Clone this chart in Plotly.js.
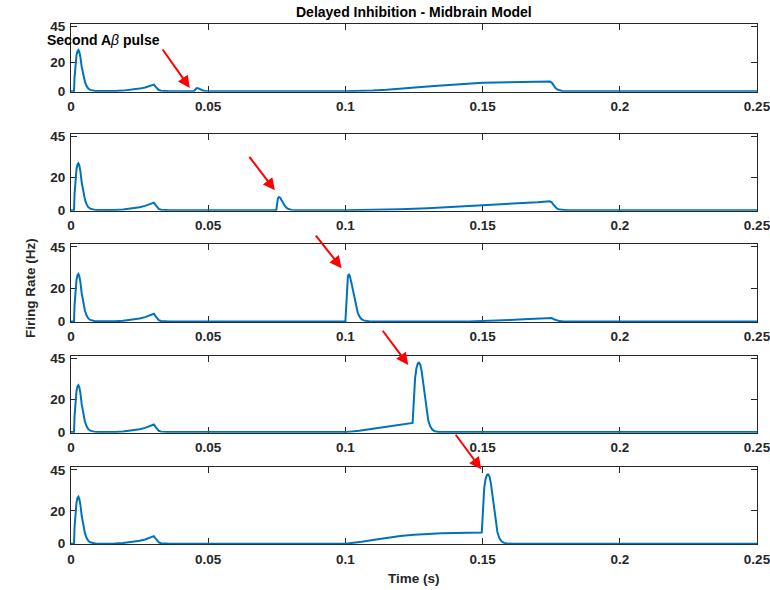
<!DOCTYPE html>
<html>
<head>
<meta charset="utf-8">
<script src="https://cdn.plot.ly/plotly-3.0.1.min.js"></script>
<style>html,body{margin:0;padding:0;background:#fff;}#chart{width:770px;height:590px;}</style>
</head>
<body>
<div id="chart"></div>
<script>
// ---- Data ----
// common first part: initial pulse + small bump near 0.03 s
const tCommon = [0, 0.0011, 0.0013, 0.0016, 0.0020, 0.0024, 0.0027, 0.0030, 0.0034, 0.0039, 0.0045, 0.0051, 0.0057, 0.0063, 0.0070, 0.0078, 0.0088, 0.0100, 0.0120, 0.0160, 0.0190, 0.0220, 0.0250, 0.0270, 0.0290, 0.0302, 0.0308, 0.0314, 0.0320, 0.0328, 0.0340, 0.0360];
const frCommon = [0, 0, 10, 19, 25, 28, 28.6, 27.5, 24, 17, 10.5, 6.3, 3.5, 1.8, 0.9, 0.4, 0.15, 0.05, 0, 0.1, 0.4, 1.0, 1.8, 2.6, 3.6, 4.6, 3.2, 1.7, 0.8, 0.3, 0.05, 0];

// panel 1
const t1 = [0.0448, 0.0452, 0.0458, 0.0465, 0.0472, 0.0480, 0.0490, 0.0510, 0.1000, 0.1050, 0.1100, 0.1150, 0.1200, 0.1250, 0.1300, 0.1350, 0.1400, 0.1450, 0.1500, 0.1550, 0.1600, 0.1650, 0.1700, 0.1745, 0.1752, 0.1758, 0.1765, 0.1772, 0.1780, 0.1790, 0.1810, 0.2500];
const fr1 = [0, 1.2, 2.2, 1.9, 1.1, 0.5, 0.15, 0, 0, 0.15, 0.5, 1.0, 1.6, 2.4, 3.2, 4.0, 4.7, 5.3, 5.8, 6.1, 6.4, 6.6, 6.7, 6.8, 6.0, 4.2, 2.4, 1.2, 0.5, 0.15, 0, 0];
// panel 2
const t2 = [0.0748, 0.0751, 0.0754, 0.0758, 0.0763, 0.0768, 0.0774, 0.0780, 0.0787, 0.0795, 0.0805, 0.0820, 0.1000, 0.1100, 0.1200, 0.1300, 0.1400, 0.1500, 0.1600, 0.1700, 0.1745, 0.1752, 0.1758, 0.1765, 0.1772, 0.1780, 0.1790, 0.1810, 0.2500];
const fr2 = [0, 4.5, 7.2, 8.0, 7.4, 5.8, 3.9, 2.4, 1.2, 0.5, 0.15, 0, 0, 0.2, 0.6, 1.2, 2.0, 2.9, 3.8, 4.8, 5.4, 4.8, 3.4, 1.9, 0.9, 0.35, 0.1, 0, 0];
// panel 3
const t3 = [0.1000, 0.1003, 0.1006, 0.1009, 0.1012, 0.1016, 0.1021, 0.1027, 0.1033, 0.1039, 0.1045, 0.1051, 0.1058, 0.1066, 0.1076, 0.1090, 0.1450, 0.1500, 0.1550, 0.1600, 0.1650, 0.1700, 0.1745, 0.1752, 0.1760, 0.1770, 0.1780, 0.1795, 0.2500];
const fr3 = [0, 12, 22, 27, 28.5, 27.5, 24, 19, 13, 8.5, 5.2, 3, 1.5, 0.6, 0.2, 0, 0, 0.2, 0.5, 0.9, 1.3, 1.8, 2.3, 2.0, 1.3, 0.6, 0.2, 0, 0];
// panel 4
const t4 = [0.1000, 0.1020, 0.1050, 0.1100, 0.1150, 0.1200, 0.1245, 0.1247, 0.1250, 0.1254, 0.1259, 0.1264, 0.1268, 0.1273, 0.1278, 0.1284, 0.1290, 0.1296, 0.1302, 0.1309, 0.1317, 0.1326, 0.1340, 0.1360, 0.2500];
const fr4 = [0, 0.3, 0.9, 2.0, 3.1, 4.3, 5.6, 12, 24, 33, 39, 41.8, 42.3, 41, 37, 29, 20, 12.5, 7, 3.5, 1.5, 0.5, 0.1, 0, 0];
// panel 5
const t5 = [0.1000, 0.1030, 0.1060, 0.1100, 0.1150, 0.1200, 0.1250, 0.1300, 0.1350, 0.1400, 0.1450, 0.1497, 0.1499, 0.1502, 0.1506, 0.1511, 0.1516, 0.1520, 0.1525, 0.1530, 0.1536, 0.1542, 0.1548, 0.1554, 0.1561, 0.1569, 0.1578, 0.1590, 0.1610, 0.2500];
const fr5 = [0, 0.4, 1.2, 2.3, 3.6, 4.7, 5.5, 6.0, 6.3, 6.5, 6.7, 6.8, 13, 25, 34, 39.5, 41.8, 42.2, 41, 37, 29, 20, 12.5, 7, 3.5, 1.5, 0.5, 0.1, 0, 0];

// red arrows (tip / tail in data units of each panel)
const arrowTipT  = [0.0433, 0.0743, 0.0986, 0.1229, 0.1495];
const arrowTipY  = [2.3, 12.1, 32.1, 40.9, 45.3];
const arrowTailT = [0.0330, 0.0646, 0.0888, 0.1132, 0.1398];
const arrowTailY = [30.0, 33.4, 52.7, 62.6, 67.2];

const xTickVals = [0, 0.05, 0.1, 0.15, 0.2, 0.25];
const xTickText = ['0', '0.05', '0.1', '0.15', '0.2', '0.25'];
const yTickVals = [0, 20, 45];
const yTickText = ['0', '20', '45'];

const titleText = 'Delayed Inhibition - Midbrain Model';
const xTitleText = 'Time (s)';
const yTitleText = 'Firing Rate (Hz)';
const noteText = '<b>Second A</b><i>β</i><b> pulse</b>';

// ---- Build figure ----
const panelT = [t1, t2, t3, t4, t5];
const panelF = [fr1, fr2, fr3, fr4, fr5];
const W = 770, H = 590;
const FONT = 'Liberation Sans, Arial, Helvetica, sans-serif';
const AXC = '#262626';
const boxTop = [24.3, 134, 244.3, 355.7, 467.3];
const boxBot = [91.7, 210.7, 322, 432.7, 544.3];

const traces = [];
const layout = {
  width: W, height: H,
  margin: {l: 0, r: 0, t: 0, b: 0},
  paper_bgcolor: '#fff', plot_bgcolor: '#fff',
  showlegend: false,
  font: {family: FONT, color: AXC},
  annotations: []
};

for (let k = 0; k < 5; k++) {
  const sx = k === 0 ? '' : String(k + 1);
  traces.push({
    type: 'scatter', mode: 'lines',
    x: tCommon.concat(panelT[k]),
    y: frCommon.concat(panelF[k]),
    xaxis: 'x' + sx, yaxis: 'y' + sx,
    line: {color: '#0072BD', width: 2},
    hoverinfo: 'skip'
  });
  const common = {
    showline: true, linecolor: AXC, linewidth: 1, mirror: 'ticks',
    ticks: 'inside', ticklen: 6, tickwidth: 1, tickcolor: AXC,
    showgrid: false, zeroline: false, automargin: false, layer: 'below traces',
    tickfont: {family: FONT, size: 13.5, color: AXC, weight: 'bold'},
    ticklabeloverflow: 'allow',
    fixedrange: true
  };
  layout['xaxis' + sx] = Object.assign({}, common, {
    domain: [71 / W, 757 / W], range: [0, 0.25],
    tickmode: 'array', tickvals: xTickVals, ticktext: xTickText,
    anchor: 'y' + sx, ticklabelstandoff: 2
  });
  layout['yaxis' + sx] = Object.assign({}, common, {
    domain: [1 - boxBot[k] / H, 1 - boxTop[k] / H], range: [-0.35, 46.5],
    tickmode: 'array', tickvals: yTickVals, ticktext: yTickText,
    anchor: 'x' + sx, ticklabelstandoff: 2
  });
  layout.annotations.push({
    xref: 'x' + sx, yref: 'y' + sx, axref: 'x' + sx, ayref: 'y' + sx,
    x: arrowTipT[k], y: arrowTipY[k], ax: arrowTailT[k], ay: arrowTailY[k],
    text: '', showarrow: true, arrowhead: 2, arrowsize: 1.2, arrowwidth: 2,
    arrowcolor: '#FF0000', standoff: 0, startstandoff: 0
  });
}

layout.annotations.push(
  {xref: 'paper', yref: 'paper', x: 414 / W, y: 1 - 12 / H, xanchor: 'center', yanchor: 'middle',
   text: '<b>' + titleText + '</b>', showarrow: false, font: {family: FONT, size: 14, color: '#000'}},
  {xref: 'paper', yref: 'paper', x: 414 / W, y: 1 - 578 / H, xanchor: 'center', yanchor: 'middle',
   text: '<b>' + xTitleText + '</b>', showarrow: false, font: {family: FONT, size: 13.5, color: AXC}},
  {xref: 'paper', yref: 'paper', x: 30 / W, y: 1 - 288 / H, xanchor: 'center', yanchor: 'middle',
   text: '<b>' + yTitleText + '</b>', textangle: -90, showarrow: false, font: {family: FONT, size: 13.5, color: AXC}},
  {xref: 'paper', yref: 'paper', x: 104 / W, y: 1 - 40 / H, xanchor: 'center', yanchor: 'middle',
   text: noteText, showarrow: false, font: {family: FONT, size: 14, color: '#000'}}
);

Plotly.newPlot('chart', traces, layout, {displayModeBar: false, staticPlot: true});
</script>
</body>
</html>
